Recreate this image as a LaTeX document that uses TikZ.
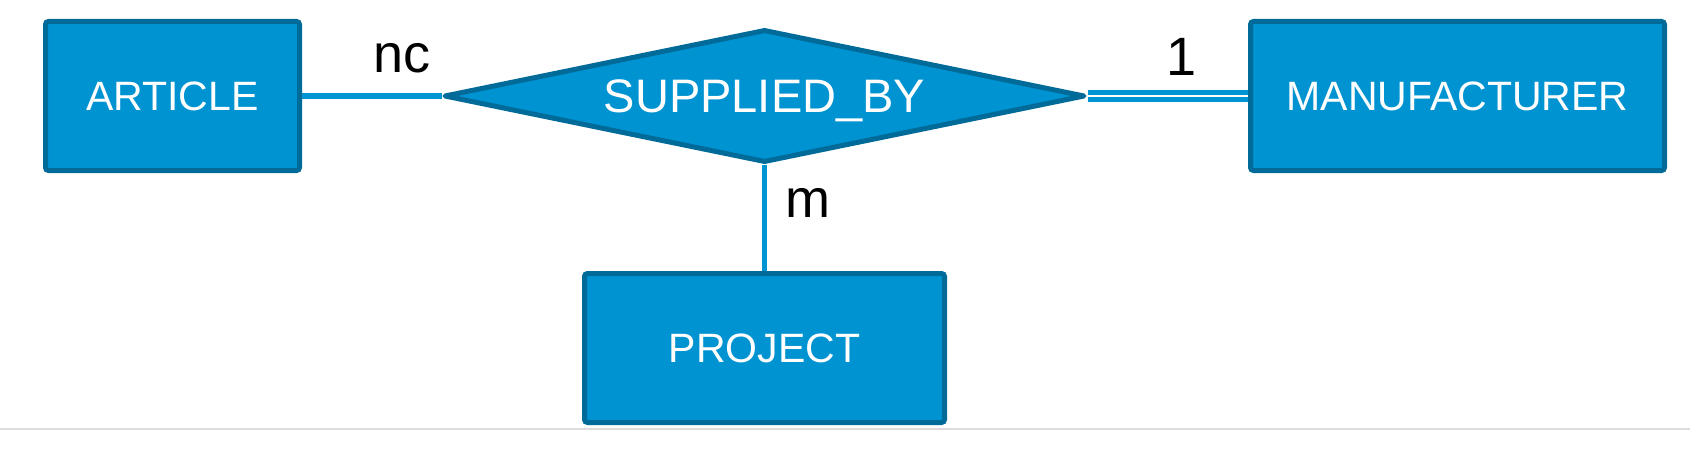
\documentclass[tikz,border=0pt]{standalone}
\usepackage{fontspec}
\setmainfont{Liberation Sans}
\usetikzlibrary{shapes.geometric}
\definecolor{boxfill}{HTML}{0093D1}
\definecolor{boxline}{HTML}{006A99}
\definecolor{linkblue}{HTML}{0094D2}
\definecolor{rulegrey}{HTML}{DDDDDD}
\tikzset{
  entity/.style={draw=boxline, fill=boxfill, line width=5pt, rounded corners=3pt,
    minimum height=149pt, inner sep=0pt, text=white,
    font=\fontsize{41}{49}\selectfont},
  relship/.style={diamond, draw=boxline, fill=boxfill, line width=5pt, line join=round,
    aspect=4.9, minimum width=641pt, minimum height=133pt, inner sep=0pt, text=white,
    text height=33.7pt, text depth=0pt,
    font=\fontsize{47}{56}\selectfont},
  link/.style={draw=linkblue, line width=5pt},
  dlink/.style={draw=linkblue, line width=5pt, double=white, double distance=2pt},
  card/.style={text=black, inner sep=0pt, font=\fontsize{54}{64}\selectfont}
}
\begin{document}
\begin{tikzpicture}[x=1pt,y=-1pt]
\useasboundingbox (0,0) rectangle (1690,452);
\fill[white] (0,0) rectangle (1690,452);
\draw[rulegrey, line width=2pt] (0,429) -- (1690,429);
\node[entity, minimum width=254pt] (art) at (172.5,96) {ARTICLE};
\node[entity, minimum width=414pt] (man) at (1457.5,96) {MANUFACTURER};
\node[entity, minimum width=360pt] (proj) at (764.5,348) {PROJECT};
\node[relship] (rel) at (764.5,96) {SUPPLIED\_BY};
\draw[link] (art.east) -- (rel.west);
\draw[dlink] (rel.east) -- (man.west);
\draw[link] (rel.south) -- (proj.north);
\node[card, anchor=base] (lnc) at (402,73) {nc};
\node[card, anchor=base] (lone) at (1182,76) {1};
\node[card, anchor=base] (lm) at (808,217) {m};
\end{tikzpicture}
\end{document}
